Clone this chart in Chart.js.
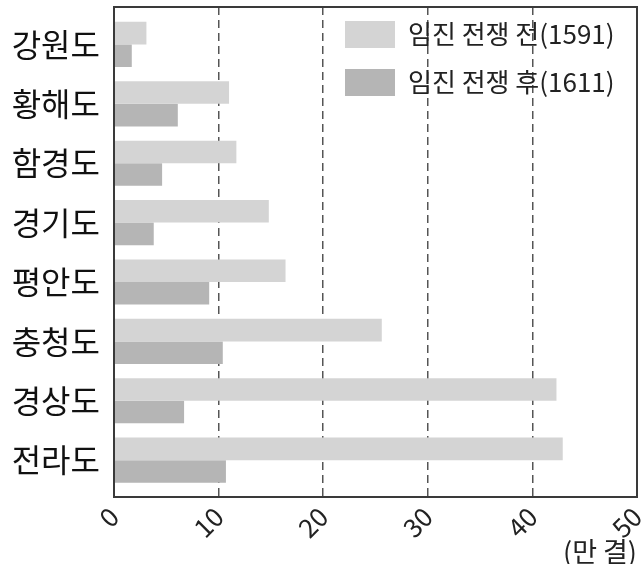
<!DOCTYPE html>
<html>
<head>
<meta charset="utf-8">
<script src="https://cdn.jsdelivr.net/npm/chart.js@4"></script>
<style>
body { margin: 0; background: #fff; }
</style>
</head>
<body>
<canvas id="chart" width="644" height="564"></canvas>
<script>
const provinces = ['강원도', '황해도', '함경도', '경기도', '평안도', '충청도', '경상도', '전라도']
const before1591 = [3.1, 11.0, 11.7, 14.8, 16.4, 25.6, 42.3, 42.9]
const after1611 = [1.7, 6.1, 4.6, 3.8, 9.1, 10.4, 6.7, 10.7]
const xTicks = [0, 10, 20, 30, 40, 50]
const seriesNames = ['임진 전쟁 전(1591)', '임진 전쟁 후(1611)']
const unitLabel = '(만 결)'

const font = '"Noto Sans CJK KR", "Noto Sans", sans-serif'

function points(values) {
    return values.map((v, i) => ({x: v, y: i}))
}

// frame around the plot + legend moved to the upper right
const framePlugin = {
    id: 'frame',
    beforeDraw(chart) {
        if (chart.legend) { chart.legend.left = 324 }
    },
    afterDraw(chart) {
        const a = chart.chartArea
        const ctx = chart.ctx
        ctx.save()
        ctx.strokeStyle = '#3a3a3a'
        ctx.lineWidth = 2
        ctx.strokeRect(a.left, a.top, a.right - a.left, a.bottom - a.top)
        ctx.restore()
    }
}

const ctx = document.getElementById('chart').getContext('2d')
const chart = new Chart(ctx, {
    type: 'bar',
    data: {
        datasets: [{
            label: seriesNames[0],
            data: points(before1591),
            backgroundColor: '#d4d4d4'
        }, {
            label: seriesNames[1],
            data: points(after1611),
            backgroundColor: '#b5b5b5'
        }]
    },
    options: {
        indexAxis: 'y',
        responsive: false,
        animation: false,
        categoryPercentage: 0.76,
        barPercentage: 1,
        layout: { padding: { top: 7, right: 7, bottom: 0, left: 0 } },
        scales: {
            x: {
                type: 'linear',
                min: 0,
                max: 50,
                afterBuildTicks: (s) => { s.ticks = xTicks.map(v => ({value: v})) },
                afterFit: (s) => { s.height = 67; s.paddingLeft = 0; s.paddingRight = 0 },
                grid: {
                    drawTicks: false,
                    lineWidth: 1.5,
                    color: (c) => (c.tick && (c.tick.value === 0 || c.tick.value === 50)) ? 'rgba(0,0,0,0)' : '#555'
                },
                border: { display: false, dash: [8, 5] },
                ticks: {
                    autoSkip: false,
                    minRotation: 45,
                    maxRotation: 45,
                    padding: 4,
                    color: '#222',
                    font: { family: font, size: 26 }
                },
                title: {
                    display: true,
                    text: unitLabel,
                    align: 'end',
                    color: '#222',
                    padding: { top: 0, bottom: -4 },
                    font: { family: font, size: 27 }
                }
            },
            y: {
                type: 'linear',
                offset: false,
                reverse: true,
                min: -0.63,
                max: 7.62,
                afterBuildTicks: (s) => { s.ticks = provinces.map((p, i) => ({value: i})) },
                afterFit: (s) => { s.width = 114; s.paddingTop = 0; s.paddingBottom = 0 },
                grid: { display: false, drawTicks: false },
                border: { display: false },
                ticks: {
                    autoSkip: false,
                    padding: 14,
                    color: '#111',
                    font: { family: font, size: 32 },
                    callback: (v) => provinces[v]
                }
            }
        },
        plugins: {
            legend: {
                position: 'chartArea',
                align: 'start',
                labels: {
                    boxWidth: 50,
                    boxHeight: 27,
                    padding: 21,
                    color: '#222',
                    font: { family: font, size: 26 }
                }
            },
            tooltip: { enabled: false }
        }
    },
    plugins: [framePlugin]
})
</script>
</body>
</html>
